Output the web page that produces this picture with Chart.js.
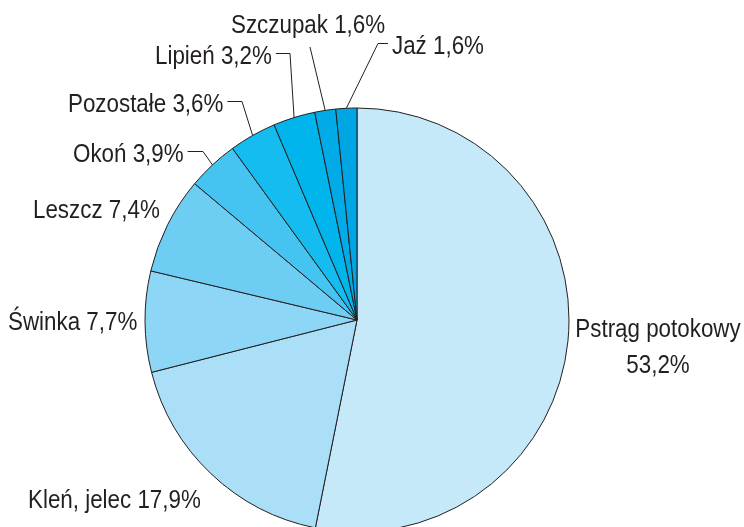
<!DOCTYPE html>
<html>
<head>
<meta charset="utf-8">
<script src="https://cdn.jsdelivr.net/npm/chart.js@4/dist/chart.umd.min.js"></script>
<style>
  html, body { margin: 0; padding: 0; background: #fff; }
  #wrap { width: 744px; height: 527px; position: relative; }
</style>
</head>
<body>
<div id="wrap"><canvas id="chart"></canvas></div>
<script>
// ================= DATA =================
const labels = ["Pstrąg potokowy", "Kleń, jelec", "Świnka", "Leszcz", "Okoń", "Pozostałe", "Lipień", "Szczupak", "Jaź"];
const shares = [53.2, 17.9, 7.7, 7.4, 3.9, 3.6, 3.2, 1.6, 1.6];
const valueText = ["53,2%", "17,9%", "7,7%", "7,4%", "3,9%", "3,6%", "3,2%", "1,6%", "1,6%"];
const colors = ["#c6e9f9", "#abdff8", "#8dd6f5", "#6dcdf3", "#45c4f1", "#14bcef", "#00b5ec", "#00abe8", "#00a6e3"];

// ================= LABEL LAYOUT =================
// x = left edge (or centre), y = baseline; elbow = x where leader bends
const labelPos = [
  { x: 658, y: 337, align: "center", two: true },
  { x: 28, y: 508 },
  { x: 8, y: 330 },
  { x: 33, y: 218 },
  { x: 73, y: 162, elbow: 203 },
  { x: 68, y: 112, elbow: 242 },
  { x: 155, y: 64, elbow: 290 },
  { x: 231, y: 33, drop: [310, 47] },
  { x: 392, y: 54, elbow: 378 }
];

const FONT = '26px "Liberation Sans", Arial, sans-serif';
const SQUEEZE = 0.86;
const INK = "#231f20";

function drawText(ctx, text, x, y, align) {
  const w = ctx.measureText(text).width * SQUEEZE;
  const left = align === "center" ? x - w / 2 : x;
  ctx.save();
  ctx.translate(left, y);
  ctx.scale(SQUEEZE, 1);
  ctx.fillText(text, 0, 0);
  ctx.restore();
  return w;
}

// ================= LABEL PLUGIN =================
const pieLabels = {
  id: "pieLabels",
  afterDraw(chart) {
    const ctx = chart.ctx;
    const arcs = chart.getDatasetMeta(0).data;
    ctx.save();
    ctx.font = FONT;
    ctx.fillStyle = INK;
    ctx.strokeStyle = INK;
    ctx.lineWidth = 1;
    ctx.textBaseline = "alphabetic";
    ctx.textAlign = "left";

    arcs.forEach((arc, i) => {
      const p = labelPos[i];
      const mid = (arc.startAngle + arc.endAngle) / 2;
      const ex = arc.x + Math.cos(mid) * arc.outerRadius;
      const ey = arc.y + Math.sin(mid) * arc.outerRadius;

      if (p.two) {
        drawText(ctx, labels[i], p.x, p.y, "center");
        drawText(ctx, valueText[i], p.x, p.y + 36, "center");
        return;
      }

      const w = drawText(ctx, labels[i] + " " + valueText[i], p.x, p.y, "left");
      const ly = p.y - 10.5;

      ctx.beginPath();
      if (p.drop) {
        ctx.moveTo(p.drop[0], p.drop[1]);
        ctx.lineTo(ex, ey);
      } else if (p.elbow != null) {
        const sx = p.elbow < p.x ? p.x - 4 : p.x + w + 4;
        ctx.moveTo(sx, ly);
        ctx.lineTo(p.elbow, ly);
        ctx.lineTo(ex, ey);
      }
      ctx.stroke();
    });
    ctx.restore();
  }
};

// ================= CHART =================
new Chart(document.getElementById("chart"), {
  type: "pie",
  data: {
    labels,
    datasets: [{
      data: shares,
      backgroundColor: colors,
      borderColor: INK,
      borderWidth: 1,
      radius: 212
    }]
  },
  options: {
    responsive: true,
    maintainAspectRatio: false,
    animation: false,
    layout: { padding: { left: 145, right: 175, top: 113, bottom: 0 } },
    plugins: {
      legend: { display: false },
      tooltip: { enabled: false }
    }
  },
  plugins: [pieLabels]
});
</script>
</body>
</html>
